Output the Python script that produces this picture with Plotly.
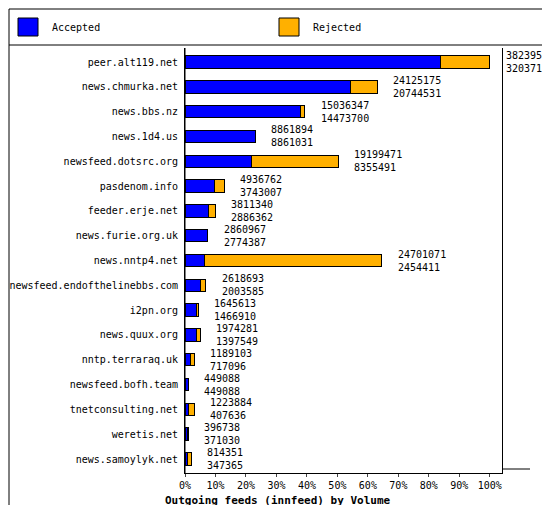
import plotly.graph_objects as go

hosts = ["peer.alt119.net", "news.chmurka.net", "news.bbs.nz", "news.1d4.us",
         "newsfeed.dotsrc.org", "pasdenom.info", "feeder.erje.net", "news.furie.org.uk",
         "news.nntp4.net", "newsfeed.endofthelinebbs.com", "i2pn.org", "news.quux.org",
         "nntp.terraraq.uk", "newsfeed.bofh.team", "tnetconsulting.net", "weretis.net",
         "news.samoylyk.net"]
offered = [38239508, 24125175, 15036347, 8861894, 19199471, 4936762, 3811340, 2860967,
           24701071, 2618693, 1645613, 1974281, 1189103, 449088, 1223884, 396738, 814351]
accepted = [32037175, 20744531, 14473700, 8861031, 8355491, 3743007, 2886362, 2774387,
            2454411, 2003585, 1466910, 1397549, 717096, 449088, 407636, 371030, 347365]

top = max(offered)
acc_frac = [a / top for a in accepted]
rej_frac = [(o - a) / top for o, a in zip(offered, accepted)]
FONT = "DejaVu Sans Mono"
XMAX = 1.04

# pixel -> paper helpers (plot area: x 177..494, y 40..465)
def px(x): return (x - 177) / 317
def py(y): return (465 - y) / 425

fig = go.Figure()
fig.add_trace(go.Bar(y=hosts, x=acc_frac, orientation="h", name="Accepted",
                     marker=dict(color="#0000ff", line=dict(color="black", width=1)),
                     width=0.5, hoverinfo="skip"))
fig.add_trace(go.Bar(y=hosts, x=rej_frac, orientation="h", name="Rejected",
                     marker=dict(color="#ffb000", line=dict(color="black", width=1)),
                     width=0.5, hoverinfo="skip"))

for h, o, a in zip(hosts, offered, accepted):
    fig.add_annotation(xref="paper", x=(o / top + 0.045) / XMAX, y=h,
                       text=f"{o}<br>{a}", showarrow=False,
                       xanchor="left", yanchor="middle", align="left",
                       font=dict(family=FONT, size=10, color="black"))

shapes = [
    dict(type="rect", xref="paper", yref="paper", x0=px(1), x1=px(549), y0=py(504), y1=py(1),
         line=dict(color="black", width=1)),
    dict(type="line", xref="paper", yref="paper", x0=px(1), x1=px(549), y0=py(37), y1=py(37),
         line=dict(color="black", width=1)),
    dict(type="rect", xref="paper", yref="paper", x0=px(10), x1=px(30), y0=py(28), y1=py(10),
         fillcolor="#0000ff", line=dict(color="black", width=1)),
    dict(type="rect", xref="paper", yref="paper", x0=px(271), x1=px(291), y0=py(28), y1=py(10),
         fillcolor="#ffb000", line=dict(color="black", width=1)),
    dict(type="line", xref="paper", yref="paper", x0=px(494), x1=px(522), y0=py(461), y1=py(461),
         line=dict(color="black", width=1)),
]
fig.add_annotation(xref="paper", yref="paper", x=px(42), y=py(20), text="Accepted",
                   showarrow=False, xanchor="left", yanchor="middle",
                   font=dict(family=FONT, size=10, color="black"))
fig.add_annotation(xref="paper", yref="paper", x=px(303), y=py(20), text="Rejected",
                   showarrow=False, xanchor="left", yanchor="middle",
                   font=dict(family=FONT, size=10, color="black"))
fig.add_annotation(xref="paper", yref="paper", x=px(155), y=py(492),
                   text="<b>Outgoing feeds (innfeed) by Volume</b>", showarrow=False,
                   xanchor="left", yanchor="middle", font=dict(family=FONT, size=11, color="black"))

fig.update_layout(
    barmode="stack", width=550, height=505, showlegend=False,
    paper_bgcolor="white", plot_bgcolor="white",
    margin=dict(l=177, r=56, t=40, b=40, autoexpand=False),
    font=dict(family=FONT, size=10, color="black"),
    shapes=shapes, bargap=0.5,
)
fig.update_xaxes(range=[0, XMAX], tickvals=[i / 10 for i in range(11)],
                 ticktext=[f"{i * 10}%" for i in range(11)], showgrid=False,
                 showline=True, linecolor="black", ticks="outside",
                 ticklen=3, zeroline=False, automargin=False)
fig.update_yaxes(autorange="reversed", showline=True, linecolor="black", mirror=True,
                 showgrid=False, ticks="", ticklabelstandoff=4, automargin=False)
fig.add_vline(x=0.0, line_color="black", line_width=1)
fig.write_html("out.html")
